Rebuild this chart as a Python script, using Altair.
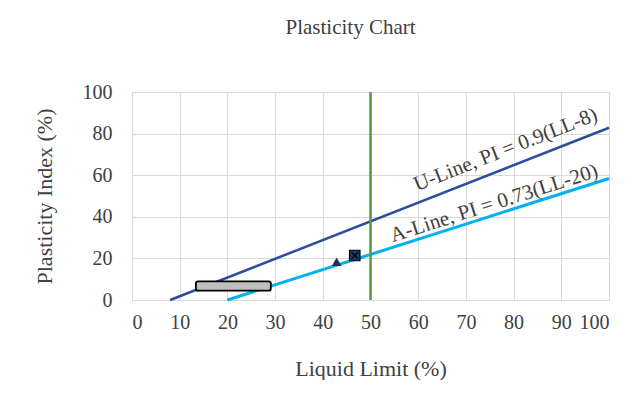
import altair as alt
import pandas as pd

# ---- data ----
u_ll = [8, 100]
u_pi = [0, 82.8]
a_ll = [20, 100]
a_pi = [0, 58.4]
b_ll = [50, 50]
b_pi = [0, 100]
tri_ll = [42.9]
tri_pi = [18.4]
sq_ll = [46.7]
sq_pi = [21.4]
zone_ll = [13.4, 29.1]
zone_pi = [4.5, 9.0]
label_text = ["U-Line, PI = 0.9(LL-8)", "A-Line, PI = 0.73(LL-20)"]
label_ll = [78.8, 76.3]
label_pi = [69.5, 43.6]
label_angle = [338.5, 342.3]
ticks = list(range(0, 101, 10))

FONT = "Liberation Serif"
TXT = "#404040"

xs = alt.Scale(domain=[0, 100], nice=False)
ys = alt.Scale(domain=[0, 100], nice=False)

x_axis = alt.Axis(values=ticks, title="Liquid Limit (%)", grid=True, gridColor="#D9D9D9",
                  domain=True, domainColor="#D9D9D9", ticks=False, labelPadding=12,
                  titlePadding=26, labelFont=FONT, titleFont=FONT, labelFontSize=20,
                  titleFontSize=22, labelColor=TXT, titleColor=TXT, titleFontWeight="normal")
y_axis = alt.Axis(values=ticks[::2], title="Plasticity Index (%)", grid=True, gridColor="#D9D9D9",
                  domain=False, ticks=False, labelPadding=20, titlePadding=26,
                  labelFont=FONT, titleFont=FONT, labelFontSize=20, titleFontSize=22,
                  labelColor=TXT, titleColor=TXT, titleFontWeight="normal")

def line_df(xv, yv):
    return pd.DataFrame({"ll": xv, "pi": yv})

u_line = alt.Chart(line_df(u_ll, u_pi)).mark_line(color="#2E4C9E", strokeWidth=2.5).encode(
    x=alt.X("ll:Q", scale=xs, axis=x_axis), y=alt.Y("pi:Q", scale=ys, axis=y_axis))
a_line = alt.Chart(line_df(a_ll, a_pi)).mark_line(color="#00B0F0", strokeWidth=3).encode(
    x=alt.X("ll:Q", scale=xs), y=alt.Y("pi:Q", scale=ys))
b_line = alt.Chart(line_df(b_ll, b_pi)).mark_line(color="#5B9A3C", strokeWidth=2.5).encode(
    x=alt.X("ll:Q", scale=xs), y=alt.Y("pi:Q", scale=ys))

zone = alt.Chart(pd.DataFrame({"x1": [zone_ll[0]], "x2": [zone_ll[1]],
                               "y1": [zone_pi[0]], "y2": [zone_pi[1]]})).mark_rect(
    fill="#BFBFBF", stroke="#000000", strokeWidth=1.8, cornerRadius=2).encode(
    x=alt.X("x1:Q", scale=xs), x2="x2:Q", y=alt.Y("y1:Q", scale=ys), y2="y2:Q")

tri = alt.Chart(line_df(tri_ll, tri_pi)).mark_point(
    shape="triangle-up", filled=True, color="#1F2F55", size=95, opacity=1).encode(
    x=alt.X("ll:Q", scale=xs), y=alt.Y("pi:Q", scale=ys))
sq = alt.Chart(line_df(sq_ll, sq_pi)).mark_point(
    shape="square", filled=True, fill="#1F3864", stroke="#000000", strokeWidth=1.2,
    size=110, opacity=1).encode(x=alt.X("ll:Q", scale=xs), y=alt.Y("pi:Q", scale=ys))
sq_x = alt.Chart(line_df(sq_ll, sq_pi)).mark_point(
    shape="M-1,-1L1,1M1,-1L-1,1", filled=False, stroke="#000000", strokeWidth=1.2,
    size=40, opacity=1).encode(x=alt.X("ll:Q", scale=xs), y=alt.Y("pi:Q", scale=ys))

lab_df = pd.DataFrame({"ll": label_ll, "pi": label_pi, "t": label_text, "ang": label_angle})
labs = alt.Chart(lab_df).mark_text(font=FONT, fontSize=21, color=TXT, align="center",
                                   baseline="alphabetic").encode(
    x=alt.X("ll:Q", scale=xs), y=alt.Y("pi:Q", scale=ys), text="t:N", angle=alt.Angle("ang:Q", scale=None))

chart = alt.layer(u_line, a_line, b_line, zone, tri, sq, sq_x, labs).properties(
    width=477, height=208,
    title=alt.TitleParams("Plasticity Chart", font=FONT, fontSize=21, color=TXT,
                          fontWeight="normal", offset=44, dx=-20),
    autosize="none",
    padding={"left": 124, "top": 84, "right": 20, "bottom": 80},
).configure_view(stroke=None)

chart.save("out.html", embed_options={"renderer": "svg", "actions": False})
